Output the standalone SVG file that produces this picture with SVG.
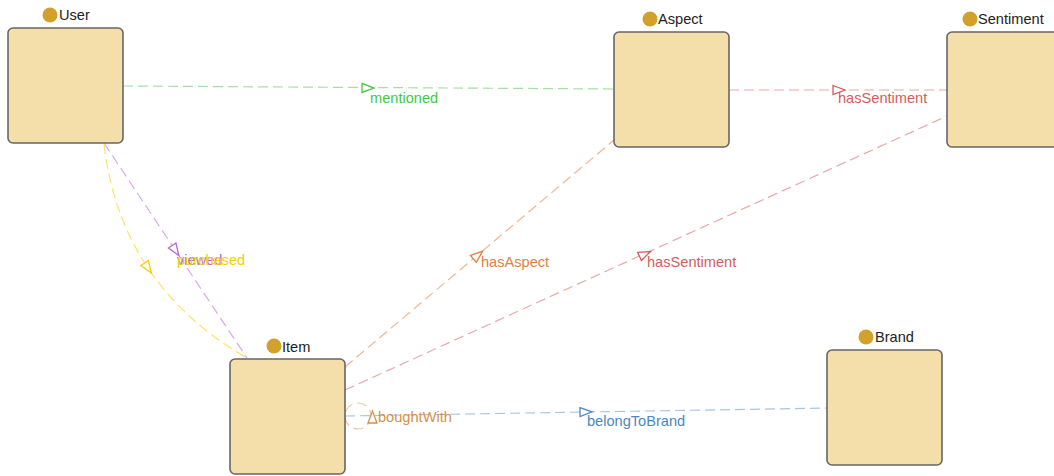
<svg xmlns="http://www.w3.org/2000/svg" xmlns:xlink="http://www.w3.org/1999/xlink" width="1054" height="476" viewBox="0 0 1054 476">
  <style>
    text { font-family: "Liberation Sans", Arial, sans-serif; font-size: 14.6px; }
    .box { fill: #f4dfab; stroke: #666; stroke-width: 1.6; }
    .dot { fill: #d1a12b; }
    .name { fill: #222; }
    .edge { fill: none; stroke-width: 1.2; stroke-dasharray: 10 5; }
    .head { fill: #fff; stroke-width: 1.3; }
    .green .edge { stroke: #a4e0a4; } .green .head { stroke: #44c844; } .green text { fill: #44c844; }
    .red .edge { stroke: #eaa8a8; } .red .head { stroke: #d65c5c; } .red text { fill: #d65c5c; }
    .orange .edge { stroke: #f0b68e; } .orange .head { stroke: #e08040; } .orange text { fill: #e08040; }
    .blue .edge { stroke: #a6c6e2; } .blue .head { stroke: #4a88c4; } .blue text { fill: #4a88c4; }
    .tan .edge { stroke: #f0c8a4; } .tan .head { stroke: #d8904c; } .tan text { fill: #d8904c; }
    .purple .edge { stroke: #d9a8ef; } .purple .head { stroke: #b268d6; } .purple text { fill: #b268d6; }
    .yellow .edge { stroke: #ffe070; } .yellow .head { stroke: #f5cf00; } .yellow text { fill: #f5cf00; }
  </style>
  <defs>
    <path id="tri" d="M-6,-4.5 L6,0 L-6,4.5 Z"/>
  </defs>
  <rect width="1054" height="476" fill="#fff"/>

  <g id="connectors">
    <g class="green">
      <path class="edge" d="M123,86 L614,89"/>
      <use href="#tri" class="head" transform="translate(368,88) rotate(0.35)"/>
      <text x="370" y="103">mentioned</text>
    </g>
    <g class="red">
      <path class="edge" d="M729,90 L947,90"/>
      <use href="#tri" class="head" transform="translate(839,90)"/>
      <text x="838" y="103">hasSentiment</text>
    </g>
    <g class="orange">
      <path class="edge" d="M345,367 L614,140"/>
      <use href="#tri" class="head" transform="translate(478,255) rotate(-40.2)"/>
      <text x="481" y="267">hasAspect</text>
    </g>
    <g class="red">
      <path class="edge" d="M345,390 L947,116"/>
      <use href="#tri" class="head" transform="translate(645,254) rotate(-24.5)"/>
      <text x="647" y="267">hasSentiment</text>
    </g>
    <g class="blue">
      <path class="edge" d="M345,416 L827,408"/>
      <use href="#tri" class="head" transform="translate(586,412) rotate(-0.95)"/>
      <text x="587" y="426">belongToBrand</text>
    </g>
    <g class="tan">
      <circle class="edge" cx="358" cy="416" r="13"/>
      <use href="#tri" class="head" transform="translate(372.5,417) rotate(-90)"/>
      <text x="378" y="422">boughtWith</text>
    </g>
    <g class="purple">
      <path class="edge" d="M104,143 L247,358"/>
      <use href="#tri" class="head" transform="translate(175.5,250.5) rotate(56.4)"/>
      <text x="177" y="265">viewed</text>
    </g>
    <g class="yellow">
      <path class="edge" d="M104,144 Q120.5,285 247,358"/>
      <use href="#tri" class="head" transform="translate(148,268) rotate(56.2)"/>
      <text x="177" y="265">purchased</text>
    </g>
  </g>

  <g id="User">
    <rect class="box" x="8" y="28" width="115" height="115" rx="5"/>
    <circle class="dot" cx="50" cy="15" r="7.5"/>
    <text class="name" x="59" y="20">User</text>
  </g>
  <g id="Aspect">
    <rect class="box" x="614" y="32" width="115" height="115" rx="5"/>
    <circle class="dot" cx="650" cy="19" r="7.5"/>
    <text class="name" x="658" y="24">Aspect</text>
  </g>
  <g id="Sentiment">
    <rect class="box" x="947" y="32" width="115" height="115" rx="5"/>
    <circle class="dot" cx="970" cy="19" r="7.5"/>
    <text class="name" x="978" y="24">Sentiment</text>
  </g>
  <g id="Item">
    <rect class="box" x="230" y="359" width="115" height="115" rx="5"/>
    <circle class="dot" cx="274" cy="346" r="7.5"/>
    <text class="name" x="282" y="352">Item</text>
  </g>
  <g id="Brand">
    <rect class="box" x="827" y="350" width="115" height="115" rx="5"/>
    <circle class="dot" cx="866" cy="337" r="7.5"/>
    <text class="name" x="875" y="342">Brand</text>
  </g>
</svg>
